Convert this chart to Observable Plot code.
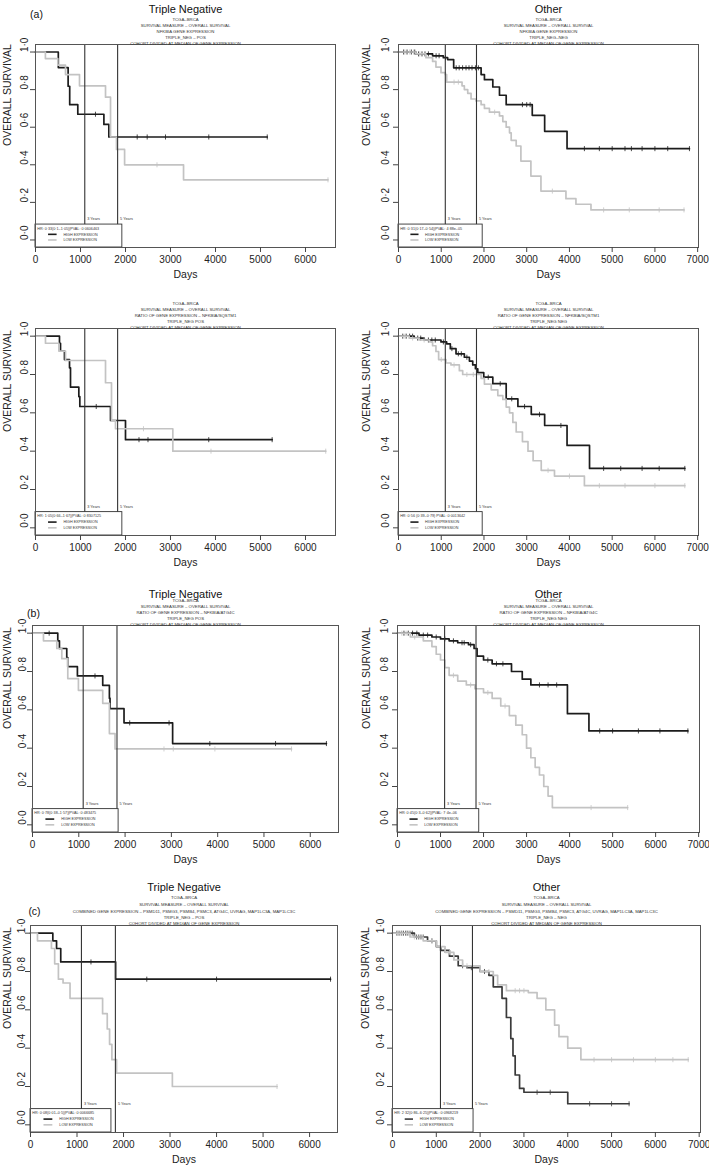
<!DOCTYPE html>
<html><head><meta charset="utf-8">
<script src="https://cdn.jsdelivr.net/npm/d3@7"></script>
<script src="https://cdn.jsdelivr.net/npm/@observablehq/plot@0.6"></script>
<style>
body{margin:0;background:#fff;font-family:"Liberation Sans",Arial,sans-serif}
#root{position:relative;width:709px;height:1170px;overflow:hidden;background:#fff}
.panel{position:absolute}
</style></head>
<body><div id="root"></div>
<script>
// ---------- shared labels ----------
const yTicks = [0, 0.2, 0.4, 0.6, 0.8, 1.0];
const xTicksLeft = [0, 1000, 2000, 3000, 4000, 5000, 6000];
const xTicksRight = [0, 1000, 2000, 3000, 4000, 5000, 6000, 7000];
const yearLines = [1095, 1825];
const yearLabels = ["3 Years", "5 Years"];
const seriesNames = ["HIGH EXPRESSION", "LOW EXPRESSION"];
const titles = ["Triple Negative", "Other"];
const tags = ["(a)", "(b)", "(c)"];

// ---------- header lines ----------
const hdr_aL = ["TCGA–BRCA", "SURVIVAL MEASURE – OVERALL SURVIVAL", "NFKBIA GENE EXPRESSION", "TRIPLE_NEG – POS", "COHORT DIVIDED AT MEDIAN OF GENE EXPRESSION"];
const hdr_aR = ["TCGA–BRCA", "SURVIVAL MEASURE – OVERALL SURVIVAL", "NFKBIA GENE EXPRESSION", "TRIPLE_NEG–NEG", "COHORT DIVIDED AT MEDIAN OF GENE EXPRESSION"];
const hdr_a2L = ["TCGA–BRCA", "SURVIVAL MEASURE – OVERALL SURVIVAL", "RATIO OF GENE EXPRESSION – NFKBIA/SQSTM1", "TRIPLE_NEG POS", "COHORT DIVIDED AT MEDIAN OF GENE EXPRESSION"];
const hdr_a2R = ["TCGA–BRCA", "SURVIVAL MEASURE – OVERALL SURVIVAL", "RATIO OF GENE EXPRESSION – NFKBIA/SQSTM1", "TRIPLE_NEG NEG", "COHORT DIVIDED AT MEDIAN OF GENE EXPRESSION"];
const hdr_bL = ["TCGA–BRCA", "SURVIVAL MEASURE – OVERALL SURVIVAL", "RATIO OF GENE EXPRESSION – NFKBIA/ATG4C", "TRIPLE_NEG POS", "COHORT DIVIDED AT MEDIAN OF GENE EXPRESSION"];
const hdr_bR = ["TCGA–BRCA", "SURVIVAL MEASURE – OVERALL SURVIVAL", "RATIO OF GENE EXPRESSION – NFKBIA/ATG4C", "TRIPLE_NEG NEG", "COHORT DIVIDED AT MEDIAN OF GENE EXPRESSION"];
const hdr_cL = ["TCGA–BRCA", "SURVIVAL MEASURE – OVERALL SURVIVAL", "COMBINED GENE EXPRESSION – PSMD11, PSMG3, PSMB4, PSMC3, ATG4C, UVRAG, MAP1LC3A, MAP1LC3C", "TRIPLE_NEG – POS", "COHORT DIVIDED AT MEDIAN OF GENE EXPRESSION"];
const hdr_cR = ["TCGA–BRCA", "SURVIVAL MEASURE – OVERALL SURVIVAL", "COMBINED GENE EXPRESSION – PSMD11, PSMG3, PSMB4, PSMC3, ATG4C, UVRAG, MAP1LC3A, MAP1LC3C", "TRIPLE_NEG – NEG", "COHORT DIVIDED AT MEDIAN OF GENE EXPRESSION"];

const hr_aL = "HR: 0·33(0·1–1·05)|PVAL: 0·0606463";
const hr_aR = "HR: 0·31(0·17–0·54)|PVAL: 4·88e–05";
const hr_a2L = "HR: 1·05(0·66–1·67)|PVAL: 0·8307125";
const hr_a2R = "HR: 0·56 (0·39–0·79) PVAL: 0·0013642";
const hr_bL = "HR: 0·78(0·38–1·57)|PVAL: 0·483475";
const hr_bR = "HR: 0·45(0·3–0·62)|PVAL: 7·4e–06";
const hr_cL = "HR: 0·08(0·01–0·5)|PVAL: 0·0066685";
const hr_cR = "HR: 2·32(0·86–6·25)|PVAL: 0·0968219";

// ---------- survival step data (days, survival) ----------
const aL_highT = [0, 507, 725, 760, 940, 1520, 1630, 5150];
const aL_highS = [1, 0.917, 0.818, 0.72, 0.669, 0.615, 0.548, 0.548];
const aL_highC = [1333, 2260, 2482, 2889, 3851, 5150];
const aL_lowT = [0, 220, 496, 667, 978, 1556, 1667, 1800, 1980, 3290, 6500];
const aL_lowS = [1, 0.965, 0.93, 0.88, 0.82, 0.76, 0.548, 0.482, 0.40, 0.32, 0.32];
const aL_lowC = [2700, 6500];

const aR_highT = [0, 407, 798, 1049, 1150, 1291, 1933, 2011, 2207, 2363, 2520, 3130, 3420, 3944, 6808];
const aR_highS = [1, 0.99, 0.98, 0.97, 0.96, 0.916, 0.88, 0.853, 0.814, 0.77, 0.72, 0.663, 0.578, 0.486, 0.486];
const aR_highC = [120, 200, 300, 380, 470, 550, 620, 700, 880, 950, 1100, 1350, 1420, 1500, 1580, 1650, 1720, 1800, 1870, 2900, 3000, 3080, 4350, 4700, 5000, 5300, 5450, 5700, 6000, 6300, 6808];
const aR_lowT = [0, 407, 642, 798, 876, 994, 1096, 1127, 1487, 1541, 1620, 1698, 1815, 1933, 2011, 2128, 2363, 2441, 2520, 2598, 2637, 2754, 2864, 3098, 3333, 3918, 4152, 4504, 6681];
const aR_lowS = [1, 0.99, 0.97, 0.95, 0.92, 0.89, 0.88, 0.84, 0.82, 0.80, 0.78, 0.75, 0.74, 0.72, 0.70, 0.68, 0.66, 0.63, 0.60, 0.57, 0.53, 0.50, 0.42, 0.34, 0.26, 0.22, 0.19, 0.16, 0.16];
const aR_lowC = [150, 260, 350, 500, 1300, 1400, 2250, 3600, 4800, 5400, 6100, 6681];

const a2L_highT = [0, 533, 556, 644, 756, 778, 963, 985, 1667, 2000, 5259];
const a2L_highS = [1, 0.963, 0.922, 0.878, 0.835, 0.734, 0.685, 0.633, 0.56, 0.46, 0.46];
const a2L_highC = [1350, 2300, 2500, 3850, 5259];
const a2L_lowT = [0, 222, 519, 667, 1556, 1689, 1778, 3052, 6450];
const a2L_lowS = [1, 0.963, 0.922, 0.873, 0.757, 0.56, 0.517, 0.40, 0.40];
const a2L_lowC = [2400, 3900, 6450];

const a2R_highT = [0, 368, 602, 994, 1127, 1213, 1346, 1541, 1659, 1737, 1800, 1855, 1995, 2207, 2520, 2794, 3107, 3420, 3944, 4470, 6700];
const a2R_highS = [1, 0.99, 0.98, 0.97, 0.96, 0.935, 0.908, 0.89, 0.87, 0.85, 0.83, 0.81, 0.786, 0.752, 0.673, 0.633, 0.592, 0.534, 0.43, 0.31, 0.31];
const a2R_highC = [100, 180, 260, 330, 450, 520, 700, 780, 860, 1050, 1250, 1400, 1470, 1600, 2100, 2380, 2650, 2950, 3300, 3800, 4800, 5200, 5700, 6100, 6700];
const a2R_lowT = [0, 250, 485, 720, 798, 876, 939, 1111, 1228, 1424, 1502, 1933, 2010, 2170, 2324, 2441, 2520, 2598, 2676, 2754, 2900, 3030, 3150, 3340, 3650, 4350, 6700];
const a2R_lowS = [1, 0.99, 0.98, 0.97, 0.95, 0.92, 0.878, 0.86, 0.85, 0.82, 0.80, 0.78, 0.75, 0.72, 0.69, 0.67, 0.63, 0.60, 0.55, 0.50, 0.45, 0.40, 0.35, 0.30, 0.27, 0.22, 0.22];
const a2R_lowC = [150, 330, 600, 1000, 1300, 1600, 1750, 3500, 4000, 4700, 5300, 6000, 6700];

const bL_highT = [0, 546, 582, 740, 762, 970, 1517, 1661, 1675, 1977, 3027, 6349];
const bL_highS = [1, 0.96, 0.92, 0.873, 0.825, 0.777, 0.728, 0.661, 0.606, 0.532, 0.424, 0.424];
const bL_highC = [360, 1350, 2100, 2950, 3830, 5250, 6349];
const bL_lowT = [0, 237, 525, 633, 762, 992, 1517, 1661, 1783, 5594];
const bL_lowS = [1, 0.96, 0.92, 0.867, 0.763, 0.702, 0.634, 0.476, 0.396, 0.396];
const bL_lowC = [2840, 3041, 3940, 5594];

const bR_highT = [0, 500, 800, 1000, 1200, 1400, 1650, 1780, 1850, 2000, 2200, 2650, 2900, 3100, 3950, 4450, 6750];
const bR_highS = [1, 0.99, 0.98, 0.97, 0.96, 0.95, 0.94, 0.92, 0.88, 0.86, 0.84, 0.80, 0.76, 0.73, 0.58, 0.49, 0.49];
const bR_highC = [150, 250, 350, 450, 600, 700, 900, 1100, 1300, 1500, 1550, 1700, 2100, 2300, 2450, 3300, 3500, 3700, 4700, 5000, 5600, 6100, 6750];
const bR_lowT = [0, 300, 600, 800, 900, 1000, 1100, 1200, 1400, 1600, 1800, 2000, 2200, 2400, 2600, 2750, 2900, 3000, 3100, 3200, 3300, 3400, 3500, 3600, 5350];
const bR_lowS = [1, 0.98, 0.96, 0.93, 0.89, 0.86, 0.82, 0.78, 0.75, 0.73, 0.71, 0.69, 0.66, 0.62, 0.57, 0.52, 0.47, 0.40, 0.35, 0.30, 0.26, 0.20, 0.15, 0.09, 0.09];
const bR_lowC = [100, 200, 400, 1300, 1700, 2100, 2500, 4500, 5350];

const cL_highT = [0, 480, 560, 650, 1830, 6450];
const cL_highS = [1, 0.96, 0.92, 0.85, 0.76, 0.76];
const cL_highC = [1300, 2500, 4000, 6450];
const cL_lowT = [0, 150, 450, 520, 600, 700, 850, 1550, 1650, 1700, 1750, 1850, 3050, 5300];
const cL_lowS = [1, 0.96, 0.92, 0.84, 0.76, 0.74, 0.66, 0.58, 0.50, 0.42, 0.34, 0.27, 0.20, 0.20];
const cL_lowC = [5300];

const cR_highT = [0, 500, 800, 1000, 1100, 1300, 1500, 1700, 2000, 2200, 2300, 2500, 2600, 2700, 2750, 2800, 2900, 3000, 4000, 5400];
const cR_highS = [1, 0.98, 0.96, 0.93, 0.91, 0.88, 0.83, 0.82, 0.80, 0.78, 0.72, 0.66, 0.56, 0.45, 0.36, 0.26, 0.19, 0.17, 0.11, 0.11];
const cR_highC = [100, 150, 200, 250, 300, 350, 400, 450, 550, 600, 650, 700, 900, 1200, 1400, 1600, 1800, 2100, 3300, 3600, 4500, 5000, 5400];
const cR_lowT = [0, 400, 700, 1000, 1200, 1400, 1600, 2000, 2300, 2400, 2600, 3100, 3300, 3500, 3700, 3800, 4000, 4300, 6750];
const cR_lowS = [1, 0.98, 0.96, 0.93, 0.90, 0.86, 0.83, 0.80, 0.78, 0.73, 0.70, 0.69, 0.66, 0.60, 0.52, 0.46, 0.40, 0.34, 0.34];
const cR_lowC = [120, 220, 320, 500, 900, 1300, 1700, 2200, 2800, 2900, 3000, 4600, 5000, 5500, 6000, 6400, 6750];

// ---------- rendering ----------
const HIGH = "#1c1c1c", LOW = "#c3c3c3";
const fmtY = d => d3.format(".1f")(d).replace(".", "·");
const tickSym = {draw(ctx, size) { const h = Math.sqrt(size) * 0.95; ctx.moveTo(0, -h); ctx.lineTo(0, h); }};
function stepAt(T, S, t) { let v = S[0]; for (let i = 0; i < T.length; i++) if (T[i] <= t) v = S[i]; return v; }
function pts(T, S) { return T.map((t, i) => ({t, s: S[i]})); }
function cens(T, S, C) { return C.map(t => ({t, s: stepAt(T, S, t)})); }

function panel(p) {
  const mL = 40, mR = 12, mT = 50, mB = 40;
  const W = (p.x1 - p.x0) + mL + mR, H = (p.y1 - p.y0) + mT + mB;
  const hc = p.highColor || HIGH;
  const marks = [
    Plot.line(pts(p.hT, p.hS), {x: "t", y: "s", curve: "step-after", stroke: hc, strokeWidth: 1.7}),
    Plot.dot(cens(p.hT, p.hS, p.hC), {x: "t", y: "s", symbol: tickSym, r: 1.5, stroke: hc, strokeWidth: 0.8, fill: "none"}),
    Plot.line(pts(p.lT, p.lS), {x: "t", y: "s", curve: "step-after", stroke: LOW, strokeWidth: 1.7}),
    Plot.dot(cens(p.lT, p.lS, p.lC), {x: "t", y: "s", symbol: tickSym, r: 1.5, stroke: LOW, strokeWidth: 0.8, fill: "none"}),
    Plot.ruleX(yearLines, {stroke: "#333", strokeWidth: 1.1}),
    Plot.text(yearLabels, {x: (d, i) => yearLines[i], y: 0.112, text: d => d, textAnchor: "start", dx: 2.5, fontSize: 3.8, fill: "#333"}),
    Plot.rect([0], {x1: 0, x2: p.legW, y1: -0.04, y2: 0.082, fill: "white", stroke: "#333", strokeWidth: 0.9}),
    Plot.text([p.hr], {x: 40, y: 0.062, text: d => d, textAnchor: "start", fontSize: 3.7, fill: "#333"}),
    Plot.ruleY([0.03], {x1: 290, x2: 480, stroke: hc, strokeWidth: 1.6}),
    Plot.ruleY([0.0], {x1: 290, x2: 480, stroke: LOW, strokeWidth: 1.6}),
    Plot.text(seriesNames, {x: 620, y: (d, i) => [0.03, 0.0][i], text: d => d, textAnchor: "start", fontSize: 3.7, fill: "#333"}),
    Plot.frame({stroke: "#555", strokeWidth: 1}),
    Plot.axisY(yTicks, {tickSize: 5, tickFormat: () => "", label: null, stroke: "#444"}),
    Plot.text(yTicks, {y: d => d, frameAnchor: "left", dx: p.tickDx, rotate: -90, text: fmtY, fontSize: 10, fill: "#222"}),
    Plot.axisX(p.xTicks, {tickSize: 5, tickPadding: 3, fontSize: 10, label: null, stroke: "#444", fill: "#222", tickFormat: d => String(d)}),
    Plot.text(["Days"], {frameAnchor: "bottom", dy: 30, fontSize: 10.5, fill: "#222"}),
    Plot.text(["OVERALL SURVIVAL"], {frameAnchor: "left", dx: p.labDx, rotate: -90, fontSize: 10.5, fill: "#222"}),
    ...p.hdr.map((line, k) => Plot.text([line], {frameAnchor: "top", dy: p.hdrDy[k], fontSize: 4.3, fill: "#333"}))
  ];
  if (p.title) marks.push(Plot.text([p.title], {frameAnchor: "top", dy: p.titleDy, fontSize: 11, fill: "#111"}));
  if (p.tag) marks.push(Plot.text([p.tag], {frameAnchor: "top-left", dy: p.tagDy, dx: p.tagDx, textAnchor: "middle", fontSize: 10.5, fill: "#111"}));
  const svg = Plot.plot({
    width: W, height: H, marginLeft: mL, marginRight: mR, marginTop: mT, marginBottom: mB,
    x: {domain: [0, p.xmax]}, y: {domain: [-0.04, 1.04]},
    style: {fontFamily: "'Liberation Sans', Arial, sans-serif", background: "transparent", color: "#222", overflow: "visible"},
    marks
  });
  const div = document.createElement("div");
  div.className = "panel";
  div.style.left = (p.x0 - mL) + "px";
  div.style.top = (p.y0 - mT) + "px";
  div.style.width = W + "px";
  div.appendChild(svg);
  document.getElementById("root").appendChild(div);
}

const dyA = [-26.5, -20.5, -14.5, -8.5, -2.8];
const dyC = [-30, -23, -16, -10, -3.5];
const panels = [
  {x0: 35, x1: 335, y0: 44, y1: 247, xmax: 6667, xTicks: xTicksLeft, tickDx: -11, labDx: -28, title: titles[0], titleDy: -39, tag: tags[0], tagDy: -34, tagDx: 1, hdr: hdr_aL, hdrDy: dyA, hr: hr_aL, legW: 1930,
   hT: aL_highT, hS: aL_highS, hC: aL_highC, lT: aL_lowT, lS: aL_lowS, lC: aL_lowC},
  {x0: 398, x1: 698, y0: 44, y1: 247, xmax: 7020, xTicks: xTicksRight, tickDx: -13, labDx: -32, title: titles[1], titleDy: -39, hdr: hdr_aR, hdrDy: dyA, hr: hr_aR, legW: 1970,
   hT: aR_highT, hS: aR_highS, hC: aR_highC, lT: aR_lowT, lS: aR_lowS, lC: aR_lowC},
  {x0: 35, x1: 335, y0: 328, y1: 535, xmax: 6667, xTicks: xTicksLeft, tickDx: -11, labDx: -28, hdr: hdr_a2L, hdrDy: dyA, hr: hr_a2L, legW: 1930,
   hT: a2L_highT, hS: a2L_highS, hC: a2L_highC, lT: a2L_lowT, lS: a2L_lowS, lC: a2L_lowC},
  {x0: 398, x1: 698, y0: 328, y1: 535, xmax: 7020, xTicks: xTicksRight, tickDx: -13, labDx: -32, hdr: hdr_a2R, hdrDy: dyA, hr: hr_a2R, legW: 1970,
   hT: a2R_highT, hS: a2R_highS, hC: a2R_highC, lT: a2R_lowT, lS: a2R_lowS, lC: a2R_lowC},
  {x0: 32, x1: 338, y0: 625, y1: 832, xmax: 6610, xTicks: xTicksLeft, tickDx: -10, labDx: -25, title: titles[0], titleDy: -35, tag: tags[1], tagDy: -16, tagDx: 1, hdr: hdr_bL, hdrDy: dyA, hr: hr_bL, legW: 1860,
   hT: bL_highT, hS: bL_highS, hC: bL_highC, lT: bL_lowT, lS: bL_lowS, lC: bL_lowC},
  {x0: 397, x1: 699, y0: 625, y1: 832, xmax: 7020, xTicks: xTicksRight, tickDx: -13, labDx: -31, title: titles[1], titleDy: -35, hdr: hdr_bR, hdrDy: dyA, hr: hr_bR, legW: 1900,
   hT: bR_highT, hS: bR_highS, hC: bR_highC, lT: bR_lowT, lS: bR_lowS, lC: bR_lowC},
  {x0: 30, x1: 337, y0: 925, y1: 1132, xmax: 6600, xTicks: xTicksLeft, tickDx: -9, labDx: -23, title: titles[0], titleDy: -42, tag: tags[2], tagDy: -18, tagDx: 4, hdr: hdr_cL, hdrDy: dyC, hr: hr_cL, legW: 1740,
   hT: cL_highT, hS: cL_highS, hC: cL_highC, lT: cL_lowT, lS: cL_lowS, lC: cL_lowC},
  {x0: 392, x1: 700, y0: 925, y1: 1132, xmax: 7030, xTicks: xTicksRight, tickDx: -12, labDx: -27, title: titles[1], titleDy: -42, hdr: hdr_cR, hdrDy: dyC, hr: hr_cR, legW: 1850, highColor: "#3a3a3a",
   hT: cR_highT, hS: cR_highS, hC: cR_highC, lT: cR_lowT, lS: cR_lowS, lC: cR_lowC}
];
panels.forEach(panel);
</script>
</body></html>
